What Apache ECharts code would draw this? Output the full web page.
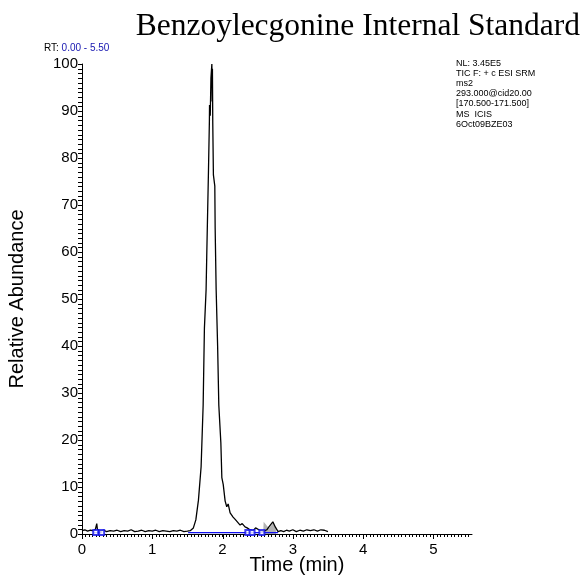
<!DOCTYPE html>
<html>
<head>
<meta charset="utf-8">
<script src="https://cdn.jsdelivr.net/npm/echarts@6/dist/echarts.min.js"></script>
<style>html,body{margin:0;padding:0;background:#fff;}#c{width:583px;height:577px;}</style>
</head>
<body>
<div id="c"></div>
<script>
// ---- data ----
var titleText = 'Benzoylecgonine Internal Standard';
var infoLines = ['NL: 3.45E5', 'TIC F: + c ESI SRM', 'ms2', '293.000@cid20.00', '[170.500-171.500]', 'MS  ICIS', '6Oct09BZE03'];
var xTickLabels = [0, 1, 2, 3, 4, 5];
var yTickLabels = [0, 10, 20, 30, 40, 50, 60, 70, 80, 90, 100];
var yMinorStep = 1;
var times = [
  0.00,0.04,0.08,0.12,0.16,0.19,0.21,0.22,0.24,0.27,0.31,0.35,0.40,0.45,0.50,0.55,0.60,0.65,0.70,0.75,
  0.80,0.85,0.90,0.95,1.00,1.05,1.10,1.15,1.20,1.25,1.30,1.35,1.40,1.45,1.50,
  1.54,1.585,1.62,1.657,1.695,1.724,1.742,1.766,1.775,1.80,1.813,1.815,1.825,1.835,1.848,1.853,1.856,1.861,1.87,1.89,
  1.895,1.909,1.93,1.947,1.976,1.99,2.01,2.037,2.06,2.08,2.108,2.13,2.15,2.18,2.20,2.25,2.28,2.32,2.35,2.39,
  2.436,2.47,2.49,2.53,2.578,2.63,2.66,2.68,2.716,2.75,2.79,
  2.83,2.87,2.91,2.95,3.00,3.05,3.10,3.15,3.20,3.25,3.30,3.35,3.40,3.45,3.50
];
var abundance = [
  0.7,0.9,0.6,0.8,0.7,1.0,2.2,0.9,1.1,0.6,0.8,0.5,0.7,0.6,0.8,0.5,0.7,0.6,0.9,0.5,
  0.6,0.8,0.5,0.7,0.6,0.8,0.5,0.7,0.6,0.5,0.7,0.6,0.8,0.5,0.6,
  0.7,1.3,3.0,7.2,14.3,27.4,43.8,52.0,59.0,77.4,88.0,91.3,89.0,97.0,100.0,92.0,99.0,87.4,76.4,74.0,
  65.0,52.0,40.0,27.4,19.4,12.0,10.5,7.0,5.8,6.4,4.5,4.9,3.6,3.1,3.4,1.9,2.2,1.5,1.3,0.9,
  0.7,1.3,1.1,0.8,0.5,0.9,1.5,1.3,2.6,1.5,0.5,
  0.7,0.5,0.8,0.6,0.9,0.5,0.8,0.6,0.9,0.7,0.9,0.6,0.9,0.8,0.5
];
var shadeTimes = [2.58, 2.585, 2.66, 2.72, 2.76];
var shadeValues = [0.8, 2.6, 1.2, 2.4, 1.0];
var baselineSegments = [[0.17, 0.29], [1.51, 2.79]];
var baselineLevel = 0.3;
var markerTimes = [0.195, 0.28, 2.36, 2.42, 2.56];

// ---- chart ----
var chart = echarts.init(document.getElementById('c'), null, {renderer: 'canvas'});
var lineData = times.map(function (t, i) { return [t, abundance[i]]; });
var shadeData = shadeTimes.map(function (t, i) { return [t, shadeValues[i]]; });
var series = [
  {type: 'line', data: shadeData, symbol: 'none', lineStyle: {width: 0}, areaStyle: {color: '#b4b4b4', opacity: 1}, z: 2, silent: true},
  {type: 'line', data: lineData, symbol: 'none', lineStyle: {color: '#000', width: 1.3}, z: 3, silent: true}
];
baselineSegments.forEach(function (s) {
  series.push({type: 'line', data: [[s[0], baselineLevel], [s[1], baselineLevel]], symbol: 'none', lineStyle: {color: '#1010ee', width: 1.2}, z: 4, silent: true});
});
series.push({type: 'scatter', data: markerTimes.map(function (t) { return [t, baselineLevel]; }), symbol: 'emptyRect', symbolSize: 5, itemStyle: {color: '#1010ee', borderWidth: 1}, z: 5, silent: true});

function isIn(list, v) {
  for (var i = 0; i < list.length; i++) { if (Math.abs(list[i] - v) < 1e-6) return true; }
  return false;
}

var baseGraphic = [
  {type: 'text', x: 580, y: 27, style: {text: titleText, font: '31.5px "Liberation Serif"', fill: '#000', textAlign: 'right', textVerticalAlign: 'middle'}},
  {type: 'text', left: 44, top: 43, style: {text: '{a|RT: }{b|0.00 - 5.50}', rich: {a: {fill: '#000', font: '10px "Liberation Sans"'}, b: {fill: '#1515b0', font: '10px "Liberation Sans"'}}}},
  {type: 'text', left: 456, top: 58, style: {text: infoLines.join('\n'), font: '9px "Liberation Sans"', lineHeight: 10.2, fill: '#000'}},
  {type: 'text', x: 17, y: 299, rotation: Math.PI / 2, style: {text: 'Relative Abundance', font: '20px "Liberation Sans"', fill: '#000', textAlign: 'center', textVerticalAlign: 'middle'}},
  {type: 'text', x: 297, y: 565, style: {text: 'Time (min)', font: '20px "Liberation Sans"', fill: '#000', textAlign: 'center', textVerticalAlign: 'middle'}}
];

var option = {
  animation: false,
  grid: {left: 82, right: 111, top: 64, bottom: 43, containLabel: false},
  xAxis: {type: 'value', min: 0, max: 5.55, interval: 0.05,
    axisLine: {show: true, onZero: false, lineStyle: {color: '#000', width: 1}},
    axisTick: {show: true, length: 3, inside: false, lineStyle: {color: '#000', width: 1}},
    axisLabel: {show: true, color: '#000', fontSize: 15, fontFamily: 'Liberation Sans', margin: 8, hideOverlap: false,
      showMaxLabel: false,
      formatter: function (v) { return isIn(xTickLabels, v) ? String(Math.round(v)) : ''; }},
    splitLine: {show: false}},
  yAxis: {type: 'value', min: 0, max: 100, interval: 10,
    axisLine: {show: true, onZero: false, lineStyle: {color: '#000', width: 1}},
    axisTick: {show: true, length: 4, inside: false, lineStyle: {color: '#000', width: 1}},
    axisLabel: {color: '#000', fontSize: 15, fontFamily: 'Liberation Sans', margin: 4},
    splitLine: {show: false}},
  series: series,
  graphic: baseGraphic
};
chart.setOption(option);

// minor y ticks and longer x major ticks, positioned through the chart's own scales
var tickGraphic = [];
for (var v = 0; v <= 100; v += yMinorStep) {
  var p = chart.convertToPixel({gridIndex: 0}, [0, v]);
  if (!p) continue;
  var yy = Math.round(p[1]) + 0.5;
  tickGraphic.push({type: 'line', silent: true, z: 10, shape: {x1: p[0] - 4, y1: yy, x2: p[0], y2: yy}, style: {stroke: '#000', lineWidth: 1}});
}
xTickLabels.forEach(function (t) {
  var p = chart.convertToPixel({gridIndex: 0}, [t, 0]);
  if (!p) return;
  var xx = Math.round(p[0]) + 0.5;
  tickGraphic.push({type: 'line', silent: true, z: 10, shape: {x1: xx, y1: p[1], x2: xx, y2: p[1] + 5}, style: {stroke: '#000', lineWidth: 1}});
});
chart.setOption({graphic: baseGraphic.concat(tickGraphic)});
</script>
</body>
</html>
